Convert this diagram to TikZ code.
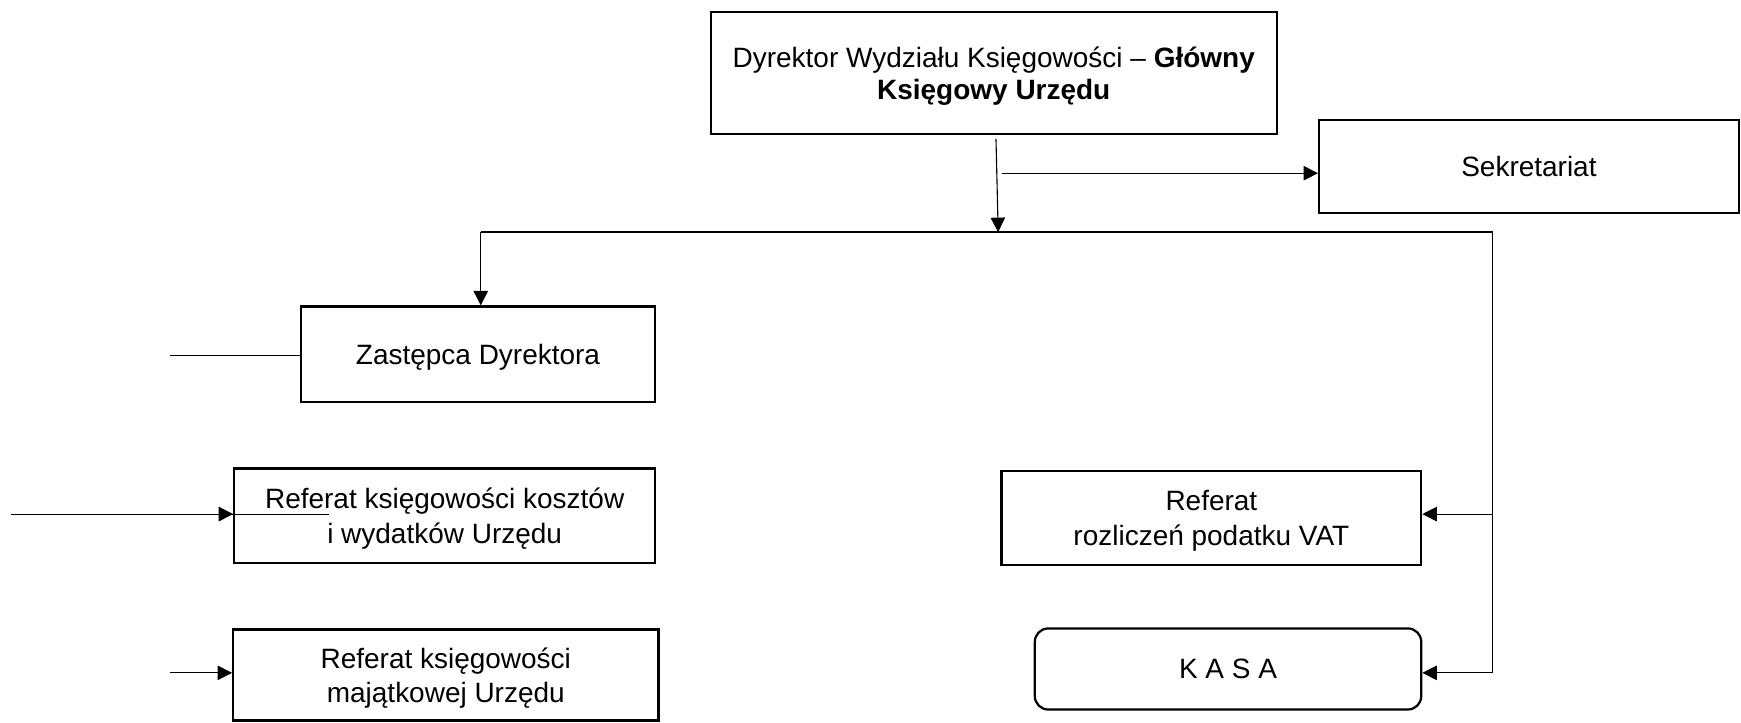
\documentclass[tikz,border=0pt]{standalone}
\usepackage{fontspec}
\setmainfont{Liberation Sans}
\usetikzlibrary{arrows.meta,positioning}

\begin{document}
\begin{tikzpicture}[x=0.5pt,y=-0.5pt,>={Triangle[length=6.5pt,width=6.5pt]},
   box/.style={draw,line width=1pt,align=center,inner sep=2pt,text depth=0pt,
      font=\fontsize{12.6}{15.5}\selectfont},
   link/.style={line width=0.5pt}]
   \useasboundingbox (0,0) rectangle (1568,651);
   \node[box,minimum width=255pt,minimum height=55pt,font=\fontsize{12.6}{14.5}\selectfont] (dyr) at (895,66)
      {Dyrektor Wydziału Księgowości -- \textbf{Główny}\\ \textbf{Księgowy Urzędu}};
   \node[box,minimum width=189pt,minimum height=42pt] (sek) at (1377,150) {Sekretariat};
   \node[box,minimum width=159.5pt,minimum height=43pt] (zast) at (430.5,319) {Zastępca Dyrektora};
   \node[box,minimum width=189.5pt,minimum height=42.5pt] (kosz) at (400.5,464.5)
      {Referat księgowości kosztów\\ i wydatków Urzędu};
   \node[box,minimum width=191.5pt,minimum height=41pt] (maj) at (401.5,608)
      {Referat księgowości\\ majątkowej Urzędu};
   \node[box,minimum width=189pt,minimum height=42.5pt] (vat) at (1091,466.5)
      {Referat\\ rozliczeń podatku VAT};
   \node[box,rounded corners=6pt,minimum width=174pt,minimum height=36.5pt] (kasa) at (1106,602.5)
      {K A S A};
%  free ends of the connectors
   \coordinate (top) at (897,125);
   \coordinate (hub) at (899,209);
   \coordinate (sekin) at (902,156);
   \coordinate (lft) at (433,209);
   \coordinate (rgt) at (1344,209);
   \coordinate (r1) at (1344,463);
   \coordinate (r2) at (1344,606);
   \coordinate (zin) at (153,320);
   \coordinate (kin) at (153,463);
   \coordinate (kfar) at (10,463);
   \coordinate (kend) at (296,463);
   \coordinate (min) at (153,606);
   \path[link,->]
   (top) edge (hub)
   (sekin) edge (sekin -| sek.west)
   (lft) edge (lft |- zast.north)
   (r1) edge (r1 -| vat.east)
   (r2) edge (r2 -| kasa.east)
   (kin) edge (kin -| kosz.west)
   (min) edge (min -| maj.west);
   \draw[link] (lft) -- (rgt) -- (r2);
   \draw[link] (zin) -- (zast.west |- zin);
   \draw[link] (kfar) -- (kend);
\end{tikzpicture}
\end{document}
